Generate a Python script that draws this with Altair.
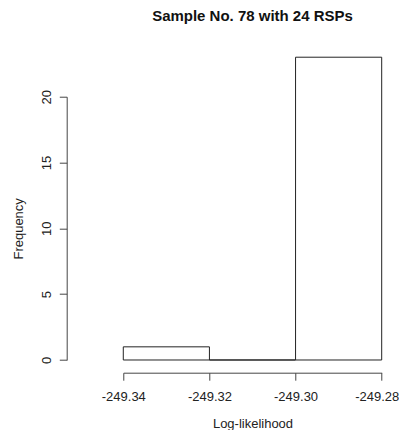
import altair as alt
import pandas as pd

bin_start = [-249.34, -249.32, -249.30]
bin_end = [-249.32, -249.30, -249.28]
counts = [1, 0, 23]
x_ticks = [-249.34, -249.32, -249.30, -249.28]
y_ticks = [0, 5, 10, 15, 20]

df = pd.DataFrame({"start": bin_start, "end": bin_end, "count": counts, "base": [0] * 3})

FONT = "Liberation Sans"

bars = alt.Chart(df).mark_rect(fill="white", stroke="#222", strokeWidth=1).encode(
    x=alt.X("start:Q",
            scale=alt.Scale(domain=[x_ticks[0], x_ticks[-1]], nice=False, zero=False),
            axis=alt.Axis(values=x_ticks, title="Log-likelihood", offset=12.7,
                          labelExpr="'-' + format(abs(datum.value), '.2f')",
                          labelOffset=alt.condition("datum.value > -249.285", alt.value(-5), alt.value(0)),
                          grid=False, tickSize=7.5, labelPadding=10, titlePadding=14,
                          labelFontSize=13, titleFontSize=13, titleFontWeight="normal",
                          labelFont=FONT, titleFont=FONT, labelColor="#222", titleColor="#222",
                          domainColor="#444", tickColor="#444", labelFlush=False)),
    x2="end:Q",
    y=alt.Y("count:Q",
            scale=alt.Scale(domain=[0, 20], nice=False),
            axis=alt.Axis(values=y_ticks, title="Frequency", offset=56.6,
                          grid=False, tickSize=7.4, labelAngle=270, labelAlign="center",
                          labelBaseline="bottom", labelPadding=6, titlePadding=15,
                          labelFontSize=13, titleFontSize=13, titleFontWeight="normal",
                          labelFont=FONT, titleFont=FONT, labelColor="#222", titleColor="#222",
                          domainColor="#444", tickColor="#444", labelFlush=False)),
    y2="base:Q",
)

chart = bars.properties(
    width=258.4,
    height=263.3,
    background="white",
    title=alt.TitleParams("Sample No. 78 with 24 RSPs", font=FONT, fontSize=15,
                          fontWeight="bold", color="#111", anchor="middle",
                          baseline="alphabetic", offset=21),
    autosize=alt.AutoSizeParams(type="none"),
    padding={"left": 115.3, "top": 88.7, "right": 17, "bottom": 70},
).configure_view(stroke="transparent", strokeWidth=0)

chart.save("out.html", embed_options={"renderer": "svg", "actions": False})
